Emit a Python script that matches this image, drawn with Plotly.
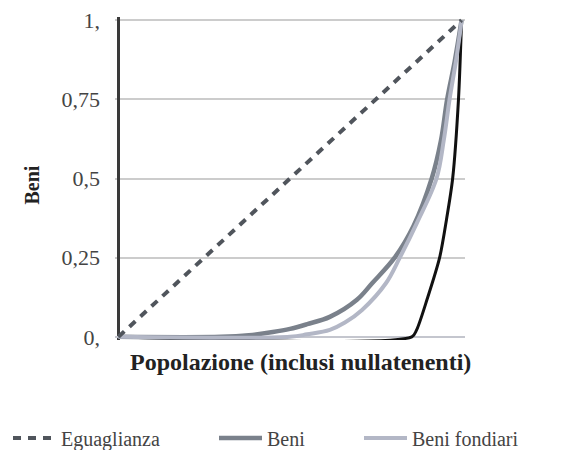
import plotly.graph_objects as go

# Data (Lorenz-style curves)
eg_x = [0, 1]
eg_y = [0, 1]

beni_x = [0, 0.30, 0.38, 0.45, 0.50, 0.55, 0.616, 0.695, 0.74, 0.805, 0.86, 0.913, 0.94, 0.958, 0.98, 1.0]
beni_y = [0, 0.0, 0.005, 0.015, 0.025, 0.04, 0.063, 0.117, 0.17, 0.25, 0.35, 0.50, 0.62, 0.75, 0.87, 1.0]

fond_x = [0, 0.50, 0.55, 0.616, 0.66, 0.71, 0.78, 0.82, 0.87, 0.927, 0.948, 0.965, 0.985, 1.0]
fond_y = [0, 0.0, 0.008, 0.022, 0.045, 0.085, 0.17, 0.25, 0.36, 0.50, 0.62, 0.75, 0.88, 1.0]

altro_x = [0, 0.855, 0.869, 0.90, 0.936, 0.956, 0.974, 0.991, 1.0]
altro_y = [0, 0.0, 0.022, 0.12, 0.25, 0.37, 0.50, 0.75, 1.0]

y_ticks = [0, 0.25, 0.5, 0.75, 1]
y_ticktext = ["0,", "0,25", "0,5", "0,75", "1,"]

FONT = "Liberation Serif"
# page body has an 8px margin, so the figure is sized to fit the window
W, H = 569, 442

fig = go.Figure()

fig.add_trace(go.Scatter(x=altro_x, y=altro_y, mode="lines", showlegend=False,
                         line=dict(color="#111111", width=3, shape="spline", smoothing=0.8),
                         hoverinfo="skip"))
fig.add_trace(go.Scatter(x=beni_x, y=beni_y, mode="lines", name="Beni", legend="legend2",
                         line=dict(color="#7a818b", width=4.5, shape="spline", smoothing=1.0)))
fig.add_trace(go.Scatter(x=fond_x, y=fond_y, mode="lines", name="Beni fondiari", legend="legend3",
                         line=dict(color="#b3b7c6", width=4, shape="spline", smoothing=1.0)))
fig.add_trace(go.Scatter(x=eg_x, y=eg_y, mode="lines", name="Eguaglianza", legend="legend",
                         line=dict(color="#50555c", width=4, dash="8px,7px")))

legend_common = dict(orientation="h", xref="container", yref="container",
                     yanchor="middle", y=12 / H, xanchor="left",
                     font=dict(family=FONT, size=20, color="#444444"),
                     bgcolor="rgba(0,0,0,0)", itemwidth=43)

fig.update_layout(
    width=W, height=H,
    margin=dict(l=106.6, r=111.6, t=8.8, b=109.8, autoexpand=False),
    paper_bgcolor="white", plot_bgcolor="white",
    font=dict(family=FONT, size=20, color="#444444"),
    xaxis=dict(range=[-0.01, 1.01], showgrid=False, showticklabels=False, ticks="",
               zeroline=True, zerolinecolor="#3a3a3a", zerolinewidth=3, showline=False),
    yaxis=dict(range=[-0.01, 1.01], tickvals=y_ticks, ticktext=y_ticktext,
               showgrid=True, gridcolor="#cccccc", gridwidth=2,
               zeroline=True, zerolinecolor="#c4c6ce", zerolinewidth=2,
               ticks="", ticklabelstandoff=14, ticklabeloverflow="allow",
               tickfont=dict(family=FONT, size=22, color="#444444")),
    legend=dict(legend_common, x=0),
    legend2=dict(legend_common, x=206 / W),
    legend3=dict(legend_common, x=351 / W),
    annotations=[
        dict(text="<b>Popolazione (inclusi nullatenenti)</b>", xref="paper", yref="paper",
             x=0.5, y=0, xanchor="center", yanchor="middle", xshift=10, yshift=-22,
             showarrow=False, font=dict(family=FONT, size=24, color="#222222")),
        dict(text="<b>Beni</b>", xref="paper", yref="paper", x=0, y=0.5,
             xanchor="center", yanchor="middle", xshift=-84, yshift=-7, textangle=-90,
             showarrow=False, font=dict(family=FONT, size=20, color="#222222")),
    ],
)

fig.write_html("out.html")
